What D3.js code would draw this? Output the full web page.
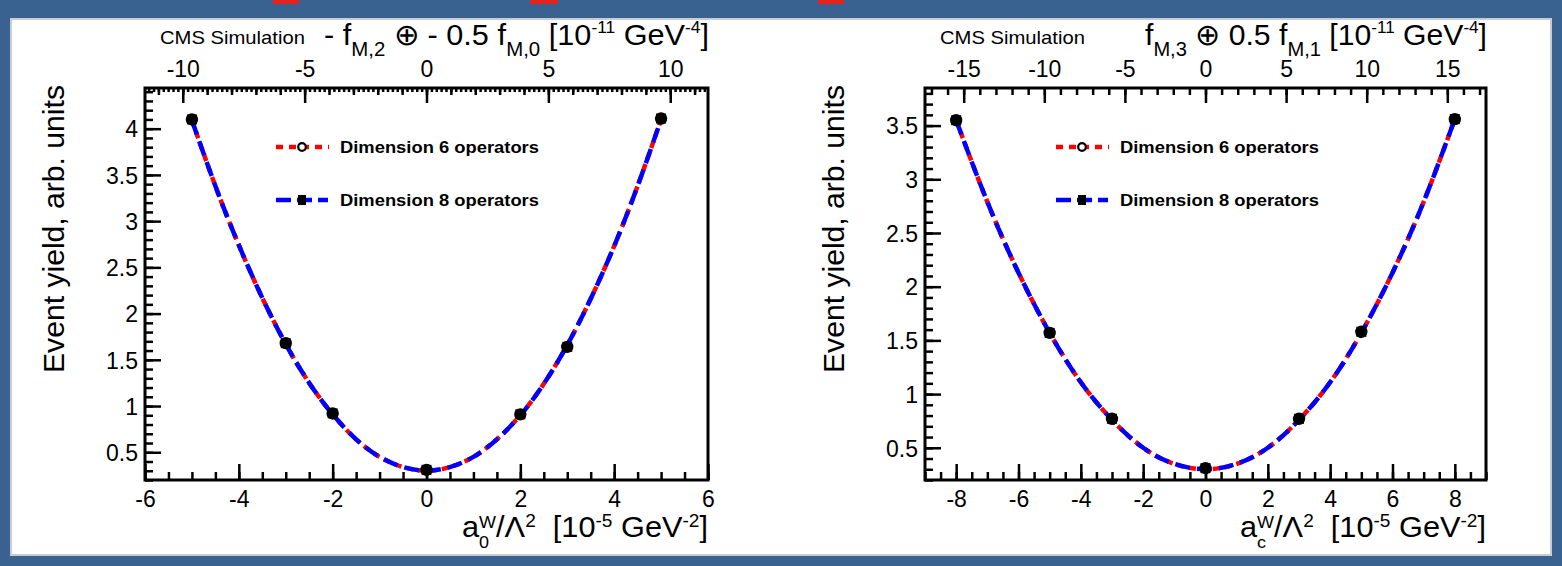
<!DOCTYPE html>
<html><head><meta charset="utf-8">
<script src="https://cdn.jsdelivr.net/npm/d3@7"></script>
<style>
html,body{margin:0;padding:0;background:#fff;}
svg{display:block;}
text{font-family:"Liberation Sans",Arial,Helvetica,sans-serif;fill:#000;white-space:pre;}
</style>
</head><body>
<svg id="c" width="1562" height="566"></svg>
<script>
// ---------------- data ----------------
const leftPointX  = [-5, -3, -2, 0, 2, 3, 5];
const leftPointY  = [4.10, 1.68, 0.92, 0.31, 0.91, 1.64, 4.11];
const leftCurveX  = [-5,-4.5,-4,-3.5,-3,-2.5,-2,-1.5,-1,-0.5,0,0.5,1,1.5,2,2.5,3,3.5,4,4.5,5];
const leftCurveY  = [4.09,3.38,2.74,2.17,1.67,1.25,0.91,0.64,0.45,0.34,0.30,0.34,0.45,0.64,0.90,1.24,1.66,2.16,2.73,3.38,4.10];

const rightPointX = [-8, -5, -3, 0, 3, 5, 8];
const rightPointY = [3.55, 1.57, 0.77, 0.31, 0.77, 1.58, 3.56];
const rightCurveX = [-8,-7,-6,-5,-4,-3,-2,-1,0,1,2,3,4,5,6,7,8];
const rightCurveY = [3.55,2.79,2.13,1.57,1.11,0.76,0.50,0.35,0.30,0.35,0.50,0.76,1.11,1.57,2.13,2.79,3.56];

const leftXTicks   = [-6,-4,-2,0,2,4,6];
const leftYTicks   = [0.5,1,1.5,2,2.5,3,3.5,4];
const leftTopTicks = [-10,-5,0,5,10];
const rightXTicks  = [-8,-6,-4,-2,0,2,4,6,8];
const rightYTicks  = [0.5,1,1.5,2,2.5,3,3.5];
const rightTopTicks= [-15,-10,-5,0,5,10,15];

const seriesNames = ["Dimension 6 operators","Dimension 8 operators"];
const yAxisTitle  = "Event yield, arb. units";
const cmsLabel    = "CMS Simulation";

// ---------------- helpers ----------------
const svg = d3.select("#c");

function stepTicks(domain, step){
  const a = Math.ceil(domain[0]/step - 1e-9), b = Math.floor(domain[1]/step + 1e-9);
  return d3.range(a, b+1).map(i => +(i*step).toFixed(6));
}

// one <text> element built from tspans, laid out piece by piece, then fitted to [x0,x1]
function rich(parent, pieces, x0, x1, baseline){
  const meas = parent.append("text").attr("xml:space","preserve");
  const layout = [];
  let cx = 0, prevStart = 0, prevW = 0;
  pieces.forEach(pc => {
    meas.attr("font-size", pc.size).attr("font-weight", pc.bold ? "bold" : null).text(pc.t);
    const w = meas.node().getComputedTextLength();
    if (pc.stack){
      layout.push({pc, x: prevStart});
      cx = Math.max(prevStart + prevW, prevStart + w);
    } else {
      layout.push({pc, x: cx});
      prevStart = cx; prevW = w; cx += w;
    }
  });
  meas.remove();
  const sx = (x1 - x0) / cx;
  const t = parent.append("text").attr("xml:space","preserve")
    .attr("transform", `translate(${x0},${baseline}) scale(${sx},1)`);
  layout.forEach(({pc, x}) => {
    t.append("tspan").attr("x", x).attr("y", pc.shift || 0)
      .attr("font-size", pc.size).attr("font-weight", pc.bold ? "bold" : null).text(pc.t);
  });
  return t;
}

// ---------------- background frame ----------------
svg.append("rect").attr("x",0).attr("y",0).attr("width",1562).attr("height",566).attr("fill","#3a6291");
svg.append("rect").attr("x",11).attr("y",19).attr("width",1540).attr("height",536)
  .attr("fill","#ffffff").attr("stroke","#c9ccd2").attr("stroke-width",2);
[[273,26],[530,28],[818,26]].forEach(([x,w]) => {
  svg.append("rect").attr("x",x).attr("y",0).attr("width",w).attr("height",4).attr("fill","#e3231c");
});

// ---------------- panel ----------------
function drawPanel(p){
  const g = svg.append("g");
  const x  = d3.scaleLinear().domain(p.xDomain).range([p.x0, p.x1]);
  const y  = d3.scaleLinear().domain(p.yDomain).range([p.y1, p.y0]);
  const xt = d3.scaleLinear().domain(p.topDomain).range([p.x0, p.x1]);
  const fmt = d => String(d);

  // bottom axis
  const gb = g.append("g").attr("transform",`translate(0,${p.y1})`);
  gb.append("g").call(d3.axisBottom(x).tickValues(stepTicks(p.xDomain, 0.5)).tickSizeInner(-8).tickSizeOuter(0).tickFormat(""));
  gb.append("g").call(d3.axisBottom(x).tickValues(p.xTicks).tickSizeInner(-16).tickSizeOuter(0).tickFormat(fmt));
  gb.selectAll("text").attr("dy", null).attr("y", 27).attr("font-size", 23);

  // left axis
  const gl = g.append("g").attr("transform",`translate(${p.x0},0)`);
  gl.append("g").call(d3.axisLeft(y).tickValues(stepTicks(p.yDomain, 0.1)).tickSizeInner(-8).tickSizeOuter(0).tickFormat(""));
  gl.append("g").call(d3.axisLeft(y).tickValues(p.yTicks).tickSizeInner(-16).tickSizeOuter(0).tickFormat(fmt));
  gl.selectAll("text").attr("x", -7).attr("dy","0.36em").attr("font-size", 23);

  // top axis
  const gt = g.append("g").attr("transform",`translate(0,${p.y0})`);
  p.topMinor.forEach(m => {
    gt.append("g").call(d3.axisTop(xt).tickValues(stepTicks(p.topDomain, m.step)).tickSizeInner(-m.len).tickSizeOuter(0).tickFormat(""));
  });
  gt.append("g").call(d3.axisTop(xt).tickValues(p.topTicks).tickSizeInner(-15).tickSizeOuter(0).tickFormat(fmt));
  gt.selectAll("text").attr("dy", null).attr("y", -11).attr("font-size", 23);

  g.selectAll(".domain").remove();
  g.selectAll(".tick line").attr("stroke","#000").attr("stroke-width",2.5);
  g.selectAll(".tick text").attr("fill","#000").attr("font-family",'"Liberation Sans",Arial,sans-serif');

  // curves
  const line = d3.line().x(d => x(d[0])).y(d => y(d[1])).curve(d3.curveNatural);
  const pts = p.curveX.map((v,i) => [v, p.curveY[i]]);
  g.append("path").attr("d", line(pts)).attr("fill","none").attr("stroke","#ff0000")
    .attr("stroke-width",4.5).attr("stroke-dasharray","7,5");
  g.append("path").attr("d", line(pts)).attr("fill","none").attr("stroke","#0000ff")
    .attr("stroke-width",4.5).attr("stroke-dasharray","15,7");

  // markers
  p.pointX.forEach((v,i) => {
    const cx = x(v), cy = y(p.pointY[i]);
    g.append("rect").attr("x",cx-5).attr("y",cy-5).attr("width",10).attr("height",10).attr("fill","#000");
    g.append("circle").attr("cx",cx).attr("cy",cy).attr("r",5.2).attr("fill","#000").attr("stroke","#000").attr("stroke-width",2);
  });

  // frame
  g.append("rect").attr("x",p.x0).attr("y",p.y0).attr("width",p.x1-p.x0).attr("height",p.y1-p.y0)
    .attr("fill","none").attr("stroke","#000").attr("stroke-width",3);

  // legend
  const lx = p.x0 + 131, ly1 = 147, ly2 = 200;
  g.append("line").attr("x1",lx).attr("x2",lx+53).attr("y1",ly1).attr("y2",ly1)
    .attr("stroke","#ff0000").attr("stroke-width",4.5).attr("stroke-dasharray","7,6");
  g.append("circle").attr("cx",lx+26).attr("cy",ly1).attr("r",3.8).attr("fill","#fff").attr("stroke","#000").attr("stroke-width",2.2);
  g.append("line").attr("x1",lx).attr("x2",lx+52).attr("y1",ly2).attr("y2",ly2)
    .attr("stroke","#0000ff").attr("stroke-width",4.5).attr("stroke-dasharray","15,6");
  g.append("rect").attr("x",lx+22).attr("y",ly2-5).attr("width",8).attr("height",10).attr("fill","#000");
  rich(g, [{t:seriesNames[0], size:16, bold:true}], p.x0+195, p.x0+394, ly1+6);
  rich(g, [{t:seriesNames[1], size:16, bold:true}], p.x0+195, p.x0+394, ly2+6);

  // texts
  rich(g, [{t:cmsLabel, size:19}], p.x0+15, p.x0+160, 44);
  rich(g, p.title, p.titleX0, p.x1+1, 45);
  rich(g, p.xTitle, p.xTitleX0, p.x1, 537);
  g.append("text").attr("transform",`translate(${p.x0-81},229) rotate(-90)`)
    .attr("text-anchor","middle").attr("font-size",30)
    .attr("textLength",288).attr("lengthAdjust","spacingAndGlyphs").text(yAxisTitle);
}

const M = 30, S = 20, U = 17, XM = 29, XS = 17, XU = 18;
drawPanel({
  x0:145, x1:708, y0:88, y1:480,
  xDomain:[-6,6], yDomain:[0.2,4.44], topDomain:[-11.55,11.55],
  xTicks:leftXTicks, yTicks:leftYTicks, topTicks:leftTopTicks,
  topMinor:[{step:0.2,len:4},{step:1,len:7}],
  pointX:leftPointX, pointY:leftPointY, curveX:leftCurveX, curveY:leftCurveY,
  titleX0:324,
  title:[{t:"- f",size:M},{t:"M,2",size:S,shift:11},{t:" \u2295 - 0.5 f",size:M},{t:"M,0",size:S,shift:11},
         {t:" [10",size:M},{t:"-11",size:U,shift:-12},{t:" GeV",size:M},{t:"-4",size:U,shift:-12},{t:"]",size:M}],
  xTitleX0:462,
  xTitle:[{t:"a",size:XM},{t:"W",size:XS,shift:-9},{t:"0",size:XS,shift:11,stack:true},{t:"/\u039b",size:XM},
          {t:"2",size:XU,shift:-10},{t:"  [10",size:XM},{t:"-5",size:XU,shift:-10},{t:" GeV",size:XM},
          {t:"-2",size:XU,shift:-10},{t:"]",size:XM}]
});
drawPanel({
  x0:925, x1:1486, y0:88, y1:480,
  xDomain:[-9,9], yDomain:[0.2,3.85], topDomain:[-17.4,17.4],
  xTicks:rightXTicks, yTicks:rightYTicks, topTicks:rightTopTicks,
  topMinor:[{step:1,len:7}],
  pointX:rightPointX, pointY:rightPointY, curveX:rightCurveX, curveY:rightCurveY,
  titleX0:1145,
  title:[{t:"f",size:M},{t:"M,3",size:S,shift:11},{t:" \u2295 0.5 f",size:M},{t:"M,1",size:S,shift:11},
         {t:" [10",size:M},{t:"-11",size:U,shift:-12},{t:" GeV",size:M},{t:"-4",size:U,shift:-12},{t:"]",size:M}],
  xTitleX0:1240,
  xTitle:[{t:"a",size:XM},{t:"W",size:XS,shift:-9},{t:"c",size:XS,shift:11,stack:true},{t:"/\u039b",size:XM},
          {t:"2",size:XU,shift:-10},{t:"  [10",size:XM},{t:"-5",size:XU,shift:-10},{t:" GeV",size:XM},
          {t:"-2",size:XU,shift:-10},{t:"]",size:XM}]
});
</script>
</body></html>
